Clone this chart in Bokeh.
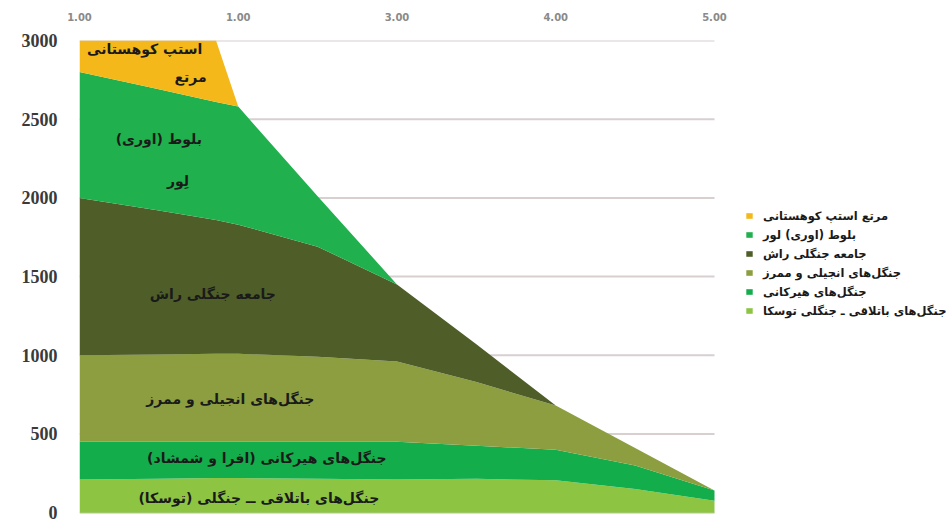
from bokeh.plotting import figure
from bokeh.models import ColumnDataSource, Legend, LegendItem, FixedTicker, Range1d
from bokeh.core.properties import value
from bokeh.embed import file_html
from bokeh.resources import INLINE

# ---- data ----
x = [1, 1.5, 1.86, 2, 2.5, 3, 3.5, 4, 4.5, 5]
swamp = [210, 215, 220, 220, 215, 210, 215, 205, 150, 75]       # جنگل‌های باتلاقی
hyrcanian = [240, 235, 230, 230, 235, 240, 210, 195, 150, 65]   # جنگل‌های هیرکانی
parrotia = [550, 555, 560, 560, 540, 510, 405, 280, 110, 0]     # انجیلی و ممرز
beech = [1000, 915, 850, 820, 700, 490, 240, 0, 0, 0]           # جامعه جنگلی راش
oak = [800, 770, 750, 750, 320, 0, 0, 0, 0, 0]                  # بلوط (اوری) لور
steppe = [200, 310, 390, 0, 0, 0, 0, 0, 0, 0]                   # مرتع استپ کوهستانی

series_keys = ["swamp", "hyrcanian", "parrotia", "beech", "oak", "steppe"]
series_names = [
    "جنگل‌های باتلاقی ـ جنگلی توسکا",
    "جنگل‌های هیرکانی",
    "جنگل‌های انجیلی و ممرز",
    "جامعه جنگلی راش",
    "بلوط (اوری) لور",
    "مرتع استپ کوهستانی",
]
colors = ["#8DC543", "#14AD4B", "#8C9E40", "#4F5E28", "#20B04E", "#F5B81A"]

x_ticks = [1, 2, 3, 4, 5]
x_tick_labels = ["1.00", "1.00", "3.00", "4.00", "5.00"]
y_ticks = [0, 500, 1000, 1500, 2000, 2500, 3000]

# in-chart labels
label_texts = [
    "استپ کوهستانی",
    "مرتع",
    "\u200fبلوط (اوری)\u200f",
    "لِور",
    "جامعه جنگلی راش",
    "جنگل‌های انجیلی و ممرز",
    "\u200fجنگل‌های هیرکانی (افرا و شمشاد)\u200f",
    "\u200fجنگل‌های باتلاقی ــ جنگلی (توسکا)\u200f",
]
label_x = [1.41, 1.70, 1.50, 1.62, 1.84, 1.95, 2.18, 2.13]
label_y = [2944, 2768, 2377, 2106, 1387, 719, 347, 95]

# ---- layout ----
W, H = 947, 523
left, top, bottom = 79, 40, 3
plot_w = 635                      # width of the x = 1..5 data region
x_start, x_end = x[0], x[-1]
x_view_end = x_end + (x_end - x_start) * (W - left - plot_w) / plot_w

source = ColumnDataSource(dict(x=x, swamp=swamp, hyrcanian=hyrcanian, parrotia=parrotia,
                               beech=beech, oak=oak, steppe=steppe))

p = figure(width=W, height=H, output_backend="svg", toolbar_location=None,
           x_axis_location="above",
           x_range=Range1d(x_start, x_view_end), y_range=Range1d(-50, 3000),
           min_border_left=left, min_border_right=0, min_border_top=top,
           min_border_bottom=bottom)
p.outline_line_color = None
p.background_fill_color = "white"

# grid lines only across the data region
p.xgrid.grid_line_color = None
p.ygrid.grid_line_color = None
p.segment(x0=[x_start] * len(y_ticks), x1=[x_end] * len(y_ticks), y0=y_ticks, y1=y_ticks,
          line_color="#d8cfcf", line_width=2)

renderers = p.varea_stack(stackers=series_keys, x="x", color=colors, source=source)

# x axis (top)
p.xaxis.ticker = FixedTicker(ticks=x_ticks)
p.xaxis.major_label_overrides = {t: l for t, l in zip(x_ticks, x_tick_labels)}
p.xaxis.axis_line_color = None
p.xaxis.major_tick_line_color = None
p.xaxis.minor_tick_line_color = None
p.xaxis.major_tick_out = 0
p.xaxis.major_tick_in = 0
p.xaxis.major_label_standoff = 20
p.xaxis.major_label_text_font = "DejaVu Sans"
p.xaxis.major_label_text_font_size = "10px"
p.xaxis.major_label_text_font_style = "bold"
p.xaxis.major_label_text_color = "#8a8a8a"

# y axis
p.yaxis.ticker = FixedTicker(ticks=y_ticks)
p.yaxis.axis_line_color = None
p.yaxis.major_tick_line_color = None
p.yaxis.minor_tick_line_color = None
p.yaxis.major_tick_out = 0
p.yaxis.major_tick_in = 0
p.yaxis.major_label_standoff = 22
p.yaxis.major_label_text_font = "Liberation Serif"
p.yaxis.major_label_text_font_size = "18px"
p.yaxis.major_label_text_font_style = "bold"
p.yaxis.major_label_text_color = "#3a3a3a"

# labels inside areas
lsrc = ColumnDataSource(dict(x=label_x, y=label_y, t=label_texts))
p.text(x="x", y="y", text="t", source=lsrc, text_align="center", text_baseline="middle",
       text_font=value("DejaVu Sans"), text_font_style="bold", text_font_size="14px",
       text_color="#1a1a1a")

# legend (top series first), placed right of the data region
items = [LegendItem(label=series_names[i], renderers=[renderers[i]])
         for i in reversed(range(len(series_names)))]
legend = Legend(items=items, location=(666, 200), orientation="vertical",
                glyph_width=8, glyph_height=7, label_height=19, label_standoff=10,
                spacing=0, padding=0, margin=0,
                background_fill_alpha=0, border_line_color=None,
                label_text_font="DejaVu Sans", label_text_font_style="bold",
                label_text_font_size="11.5px", label_text_color="#1a1a1a")
p.add_layout(legend, "center")

open("out.html", "w").write(file_html(p, INLINE))
